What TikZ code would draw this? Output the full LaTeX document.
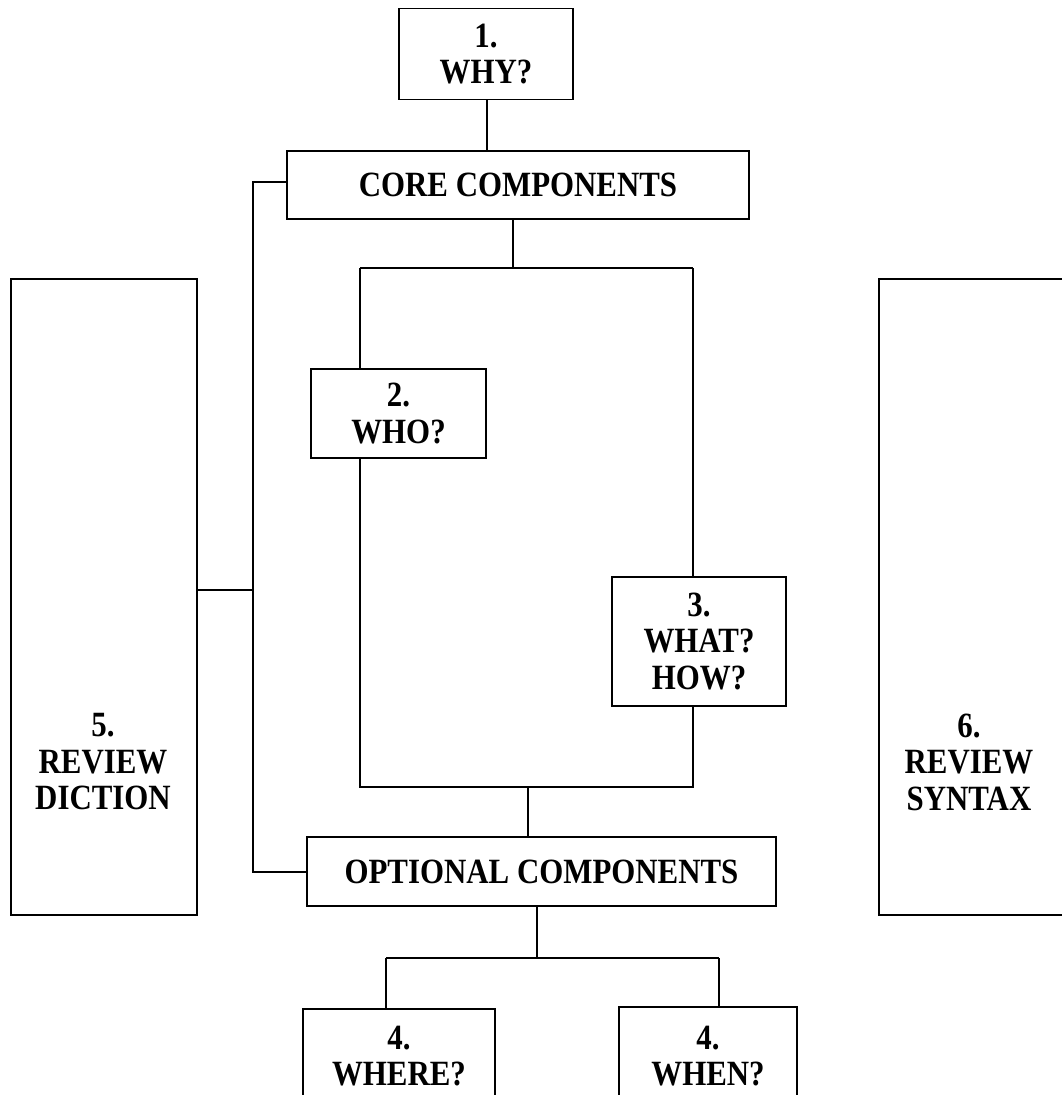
\documentclass[tikz,border=0pt]{standalone}
\usepackage{fontspec}
\setmainfont{Liberation Serif}[FakeStretch=0.87]
\begin{document}
\begin{tikzpicture}[x=1pt,y=-1pt,
  box/.style={draw, line width=1.9pt, inner sep=0pt, align=center,
    font=\fontsize{35.5}{36.5}\selectfont\bfseries},
  txt/.style={inner sep=0pt, align=center, font=\fontsize{35.5}{36.5}\selectfont\bfseries},
  conn/.style={line width=1.8pt}]
\clip (0,0) rectangle (1062,1095);
\fill[white] (0,0) rectangle (1062,1095);
% boxes
\node[box, minimum width=174pt, minimum height=91pt] (why) at (486,54) {1.\\WHY?};
\node[box, minimum width=462pt, minimum height=68pt] (core) at (518,185) {CORE COMPONENTS};
\node[box, minimum width=175pt, minimum height=89pt] (who) at (398.5,413.5) {2.\\WHO?};
\node[box, minimum width=174pt, minimum height=129pt] (what) at (699,641.5) {3.\\WHAT?\\HOW?};
\node[box, minimum width=469pt, minimum height=69pt] (opt) at (541.5,871.5) {OPTIONAL COMPONENTS};
\node[box, minimum width=192pt, minimum height=94pt] (where) at (399,1056) {4.\\WHERE?};
\node[box, minimum width=178pt, minimum height=98pt] (when) at (708,1056) {4.\\WHEN?};
\node[box, minimum width=186pt, minimum height=636pt] (rev5) at (104,597) {};
\node[txt] (t5) at (103,762) {5.\\REVIEW\\DICTION};
\node[box, minimum width=187pt, minimum height=636pt] (rev6) at (972.5,597) {};
\node[txt] (t6) at (969,762) {6.\\REVIEW\\SYNTAX};
% coordinates
\coordinate (s1) at (513,268);
\coordinate (tl) at (360,268);
\coordinate (tr) at (693,268);
\coordinate (bl) at (360,787);
\coordinate (br) at (693,787);
\coordinate (m1) at (528,787);
\coordinate (m2) at (537,958);
\coordinate (bl2) at (386,958);
\coordinate (br2) at (719,958);
\coordinate (lb1) at (253,182);
\coordinate (lb2) at (253,872);
\coordinate (lb3) at (253,590);
% connectors
\draw[conn] (why.south -| 487,0) -- (core.north -| 487,0);
\draw[conn] (core.south -| s1) -- (s1);
\draw[conn] (tl) -- (tr);
\draw[conn] (tl) -- (tl |- who.north);
\draw[conn] (who.south -| tl) -- (bl) -- (br) -- (br |- what.south);
\draw[conn] (tr) -- (tr |- what.north);
\draw[conn] (m1) -- (m1 |- opt.north);
\draw[conn] (opt.south -| m2) -- (m2);
\draw[conn] (bl2) -- (br2);
\draw[conn] (bl2) -- (bl2 |- where.north);
\draw[conn] (br2) -- (br2 |- when.north);
\draw[conn] (core.west |- lb1) -- (lb1) -- (lb2) -- (opt.west |- lb2);
\draw[conn] (rev5.east |- lb3) -- (lb3);
\end{tikzpicture}
\end{document}
